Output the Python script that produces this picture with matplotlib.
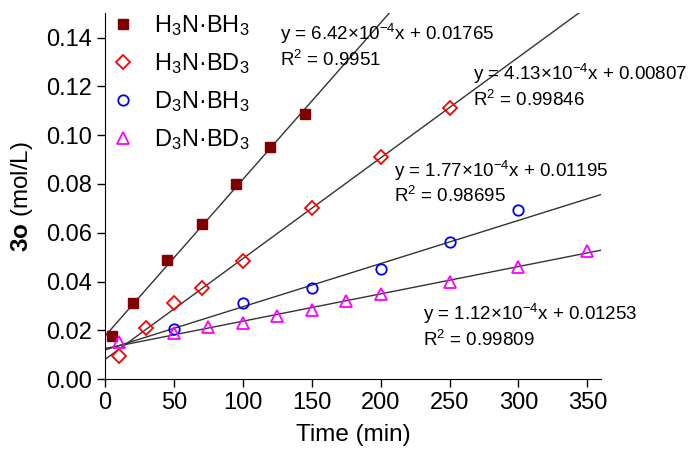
import numpy as np
import matplotlib
matplotlib.use('Agg')
import matplotlib.pyplot as plt

plt.rcParams['font.family'] = ['Liberation Sans', 'DejaVu Sans']
plt.rcParams['mathtext.fontset'] = 'custom'
plt.rcParams['mathtext.rm'] = 'Liberation Sans'
plt.rcParams['mathtext.it'] = 'Liberation Sans:italic'
plt.rcParams['mathtext.bf'] = 'Liberation Sans:bold'

# data
x_hh = [5, 20, 45, 70, 95, 120, 145]
y_hh = [0.0175, 0.031, 0.049, 0.0635, 0.080, 0.095, 0.1085]

x_hd = [10, 30, 50, 70, 100, 150, 200, 250]
y_hd = [0.0095, 0.021, 0.031, 0.0375, 0.0485, 0.070, 0.091, 0.111]

x_dh = [50, 100, 150, 200, 250, 300]
y_dh = [0.0205, 0.031, 0.0375, 0.045, 0.056, 0.0695]

x_dd = [10, 50, 75, 100, 125, 150, 175, 200, 250, 300, 350]
y_dd = [0.015, 0.019, 0.0215, 0.023, 0.026, 0.0285, 0.032, 0.035, 0.040, 0.046, 0.0525]

labels = ['H$_3$N·BH$_3$', 'H$_3$N·BD$_3$', 'D$_3$N·BH$_3$', 'D$_3$N·BD$_3$']

# linear fits as printed on the chart
slopes = [6.42e-4, 4.13e-4, 1.77e-4, 1.12e-4]
intercepts = [0.01765, 0.00807, 0.01195, 0.01253]
r2 = ['0.9951', '0.99846', '0.98695', '0.99809']
fit_text_pos = [(127, 0.1415), (267, 0.1250), (210, 0.0855), (231, 0.0265)]

fig = plt.figure(figsize=(6.91, 4.54), dpi=100)
ax = fig.add_axes([0.152, 0.165, 0.718, 0.806])

xs = np.array([0, 360])
for k, b in zip(slopes, intercepts):
    ax.plot(xs, k * xs + b, color='#333333', lw=1.0, zorder=1)

ax.plot(x_hh, y_hh, 's', color='#800000', ms=7, ls='none', label=labels[0], zorder=3)
ax.plot(x_hd, y_hd, 'D', mfc='none', mec='#ff0000', mew=1.3, ms=7, ls='none', label=labels[1], zorder=3)
ax.plot(x_dh, y_dh, 'o', mfc='none', mec='#0000ee', mew=1.3, ms=7.5, ls='none', label=labels[2], zorder=3)
ax.plot(x_dd, y_dd, '^', mfc='none', mec='#ff00ff', mew=1.3, ms=8.5, ls='none', label=labels[3], zorder=3)

for (tx, ty), k, b, r in zip(fit_text_pos, slopes, intercepts, r2):
    mant = k / 1e-4
    ax.text(tx, ty, 'y = %.2f$\\times$10$^{-4}$x + %.5f' % (mant, b), fontsize=13.5, va='center')
    ax.text(tx, ty - 0.0105, 'R$^2$ = ' + r, fontsize=13.5, va='center')

ax.set_xlim(0, 360)
ax.set_ylim(0, 0.15)
ax.set_xticks(np.arange(0, 351, 50))
ax.set_yticks(np.arange(0, 0.141, 0.02))
ax.yaxis.set_major_formatter(matplotlib.ticker.FormatStrFormatter('%.2f'))
ax.tick_params(direction='out', length=6, width=1, labelsize=17)
ax.spines['top'].set_visible(False)
ax.spines['right'].set_visible(False)
ax.set_xlabel('Time (min)', fontsize=17.5, labelpad=7)
ax.set_ylabel('$\\mathbf{3o}$ (mol/L)', fontsize=17.5, labelpad=8)

ax.legend(loc='upper left', bbox_to_anchor=(-0.025, 1.045), frameon=False, fontsize=17,
          handletextpad=0.7, labelspacing=0.55, borderaxespad=0.3, handlelength=1.2)

fig.savefig('out.png', dpi=100)
